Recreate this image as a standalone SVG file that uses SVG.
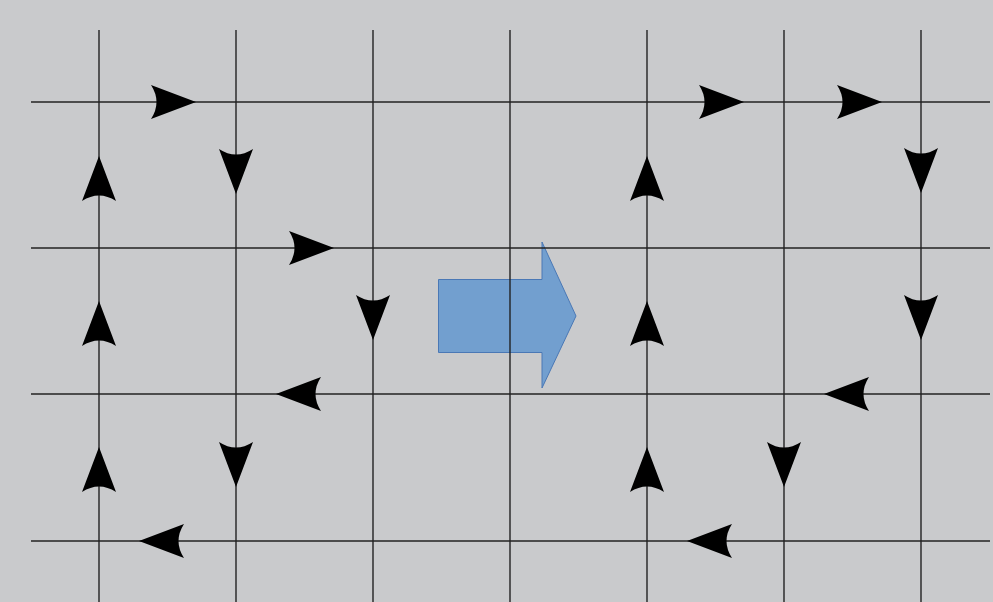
<svg xmlns="http://www.w3.org/2000/svg" xmlns:xlink="http://www.w3.org/1999/xlink" width="993" height="602" viewBox="0 0 993 602">
  <style>
    .g { stroke: #222; stroke-width: 1.4; fill: none; }
    .ah { fill: #000; }
  </style>
  <defs>
    <path id="head" d="M0,0 L-45,-17 Q-34,0 -45,17 Z"/>
  </defs>
  <rect x="0" y="0" width="993" height="602" fill="#c9cacc"/>
  <g id="transition-arrow">
    <path d="M438.5,279.5 L542,279.5 L542,242 L576,316 L542,388 L542,352.5 L438.5,352.5 Z" fill="#729fcf" stroke="#4a78b5" stroke-width="1"/>
  </g>
  <g id="grid">
    <line class="g" x1="31" y1="102" x2="990" y2="102"/>
    <line class="g" x1="31" y1="248" x2="990" y2="248"/>
    <line class="g" x1="31" y1="394" x2="990" y2="394"/>
    <line class="g" x1="31" y1="541" x2="990" y2="541"/>
    <line class="g" x1="99" y1="30" x2="99" y2="602"/>
    <line class="g" x1="236" y1="30" x2="236" y2="602"/>
    <line class="g" x1="373" y1="30" x2="373" y2="602"/>
    <line class="g" x1="510" y1="30" x2="510" y2="602"/>
    <line class="g" x1="647" y1="30" x2="647" y2="602"/>
    <line class="g" x1="784" y1="30" x2="784" y2="602"/>
    <line class="g" x1="921" y1="30" x2="921" y2="602"/>
  </g>
  <g id="flow-arrows" class="ah">
    <!-- left field -->
    <use xlink:href="#head" transform="translate(196,102)"/>
    <use xlink:href="#head" transform="translate(236,194) rotate(90)"/>
    <use xlink:href="#head" transform="translate(99,156) rotate(-90)"/>
    <use xlink:href="#head" transform="translate(334,248)"/>
    <use xlink:href="#head" transform="translate(373,340) rotate(90)"/>
    <use xlink:href="#head" transform="translate(99,301) rotate(-90)"/>
    <use xlink:href="#head" transform="translate(276,394) rotate(180)"/>
    <use xlink:href="#head" transform="translate(236,487) rotate(90)"/>
    <use xlink:href="#head" transform="translate(99,447) rotate(-90)"/>
    <use xlink:href="#head" transform="translate(139,541) rotate(180)"/>
    <!-- right field -->
    <use xlink:href="#head" transform="translate(744,102)"/>
    <use xlink:href="#head" transform="translate(882,102)"/>
    <use xlink:href="#head" transform="translate(921,193) rotate(90)"/>
    <use xlink:href="#head" transform="translate(647,156) rotate(-90)"/>
    <use xlink:href="#head" transform="translate(921,340) rotate(90)"/>
    <use xlink:href="#head" transform="translate(647,301) rotate(-90)"/>
    <use xlink:href="#head" transform="translate(824,394) rotate(180)"/>
    <use xlink:href="#head" transform="translate(784,487) rotate(90)"/>
    <use xlink:href="#head" transform="translate(647,447) rotate(-90)"/>
    <use xlink:href="#head" transform="translate(687,541) rotate(180)"/>
  </g>
</svg>
